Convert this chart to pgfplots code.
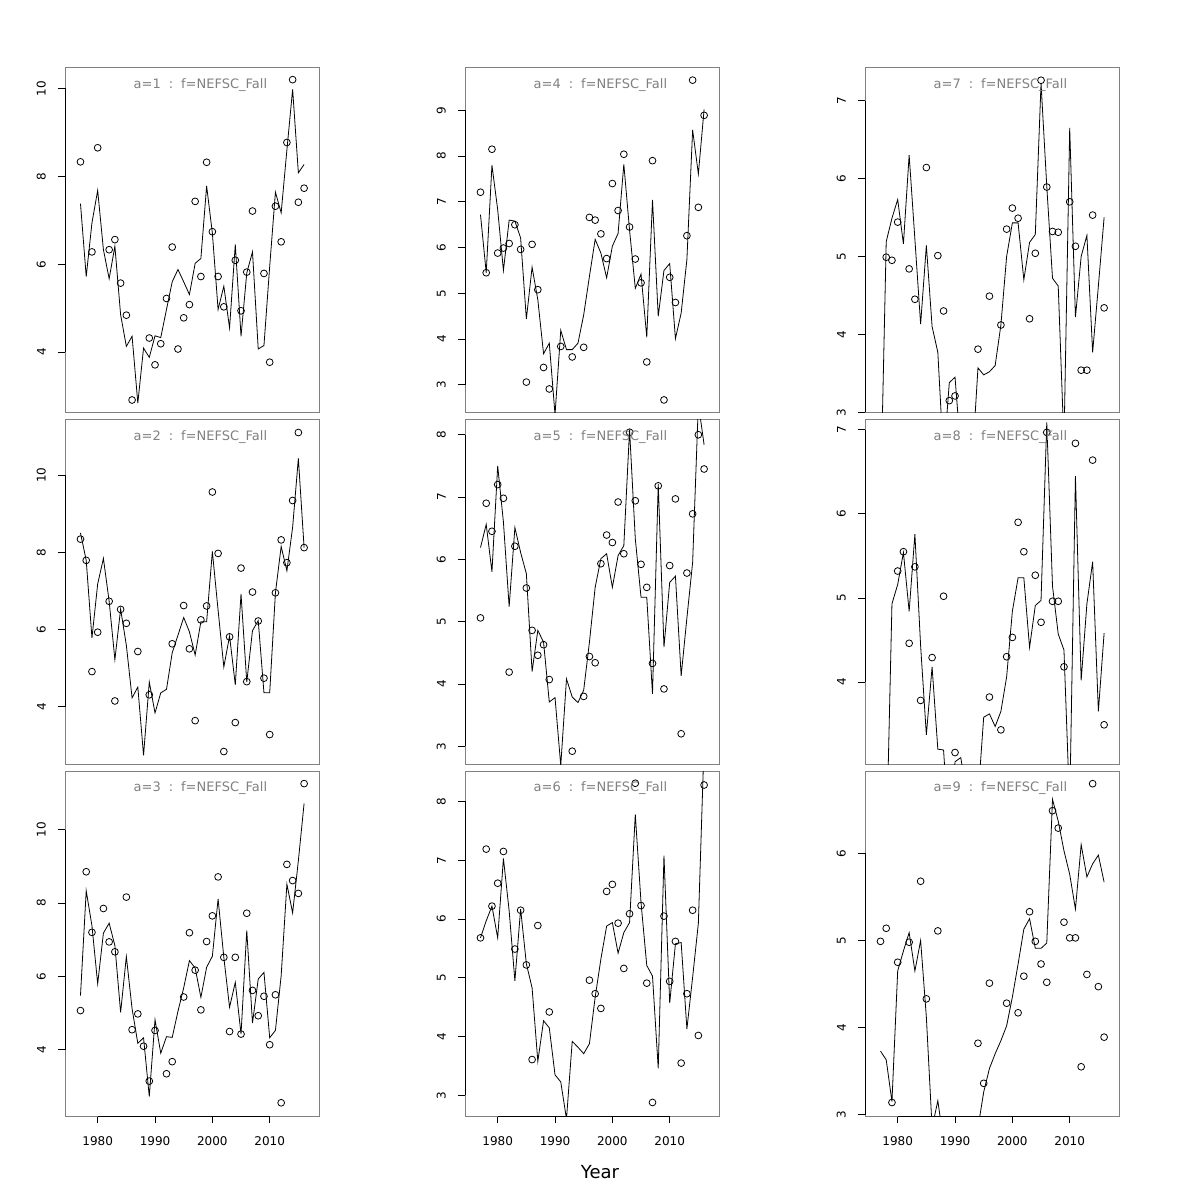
\documentclass[border=0pt]{standalone}
\usepackage{fontspec}
\setmainfont{DejaVu Sans}
\usepackage{pgfplots}
\pgfplotsset{compat=1.18}
\pgfplotsset{
 panel/.style={width=254bp,height=344.5bp,scale only axis,xmin=1974.3,xmax=2018.6,
  axis line style={draw=black!50, line width=0.8bp},
  tick style={black,line width=0.8bp}, major tick length=7bp, tick align=outside,
  xtick pos=bottom, ytick pos=left,
  ticklabel style={font=\fontsize{12bp}{14bp}\selectfont},
  /pgf/number format/assume math mode=true,
  /pgf/number format/1000 sep={},
  yticklabel style={rotate=90,anchor=south,inner sep=0pt},
  xticklabel style={anchor=north,inner sep=0pt},
  yticklabel shift=12bp, xticklabel shift=13.6bp,
  clip mode=individual, xtick=\empty,
 },
 fitline/.style={no marks, black, line width=0.8bp},
 obs/.style={only marks, mark=o, mark size=3.4bp, mark options={line width=0.8bp, black}},
 bottomrow/.style={xtick={1980,1990,2000,2010}},
}
\newcommand{\ptitle}[1]{\node[text=black!50, font=\fontsize{13bp}{15bp}\selectfont] at (rel axis cs:0.533,0.951) {a=#1\hspace{8bp}:\hspace{8bp}f=NEFSC\_Fall};}
\newcommand{\yline}[2]{\draw[black,line width=0.8bp] (axis cs:1974.3,#1) -- (axis cs:1974.3,#2);}
\newcommand{\xline}{\draw[black,line width=0.8bp] (axis cs:1980,\pgfkeysvalueof{/pgfplots/ymin}) -- (axis cs:2010,\pgfkeysvalueof{/pgfplots/ymin});}
\begin{document}
\begin{tikzpicture}
\useasboundingbox (0,0) rectangle (1200bp,1200bp);
% ---------- a=1 ----------
\begin{axis}[panel, at={(65bp,787.7bp)}, anchor=south west, ymin=2.63, ymax=10.47, ytick={4,6,8,10}]
\addplot[fitline] coordinates {(1977,7.38)(1978,5.72)(1979,6.94)(1980,7.68)(1981,6.33)(1982,5.67)(1983,6.41)(1984,4.85)(1985,4.13)(1986,4.36)(1987,2.84)(1988,4.09)(1989,3.88)(1990,4.37)(1991,4.33)(1992,4.97)(1993,5.6)(1994,5.88)(1995,5.6)(1996,5.31)(1997,6.02)(1998,6.13)(1999,7.78)(2000,6.71)(2001,4.97)(2002,5.5)(2003,4.55)(2004,6.45)(2005,4.36)(2006,5.8)(2007,6.28)(2008,4.07)(2009,4.15)(2010,5.95)(2011,7.64)(2012,7.17)(2013,8.6)(2014,9.98)(2015,8.08)(2016,8.27)};
\addplot[obs] coordinates {(1977,8.33)(1979,6.28)(1980,8.65)(1982,6.33)(1983,6.56)(1984,5.57)(1985,4.84)(1986,2.91)(1989,4.32)(1990,3.71)(1991,4.19)(1992,5.22)(1993,6.39)(1994,4.07)(1995,4.78)(1996,5.08)(1997,7.43)(1998,5.72)(1999,8.32)(2000,6.74)(2001,5.72)(2002,5.03)(2004,6.09)(2005,4.94)(2006,5.82)(2007,7.21)(2009,5.79)(2010,3.77)(2011,7.32)(2012,6.51)(2013,8.77)(2014,10.2)(2015,7.41)(2016,7.73)};
\ptitle{1}\yline{4}{10}
\end{axis}
% ---------- a=4 ----------
\begin{axis}[panel, at={(465bp,787.7bp)}, anchor=south west, ymin=2.40, ymax=9.93, ytick={3,4,5,6,7,8,9}]
\addplot[fitline] coordinates {(1977,6.72)(1978,5.45)(1979,7.8)(1980,6.83)(1981,5.5)(1982,6.6)(1983,6.58)(1984,6.21)(1985,4.44)(1986,5.57)(1987,4.86)(1988,3.68)(1989,3.91)(1990,2.35)(1991,4.19)(1992,3.77)(1993,3.77)(1994,3.91)(1995,4.53)(1996,5.37)(1997,6.18)(1998,5.88)(1999,5.34)(2000,6.03)(2001,6.31)(2002,7.82)(2003,6.38)(2004,5.11)(2005,5.42)(2006,4.04)(2007,7.04)(2008,4.5)(2009,5.5)(2010,5.65)(2011,4.01)(2012,4.57)(2013,5.74)(2014,8.57)(2015,7.61)(2016,9.02)};
\addplot[obs] coordinates {(1977,7.21)(1978,5.45)(1979,8.15)(1980,5.88)(1981,5.99)(1982,6.09)(1983,6.5)(1984,5.96)(1985,3.06)(1986,6.07)(1987,5.08)(1988,3.38)(1989,2.91)(1991,3.84)(1993,3.61)(1995,3.82)(1996,6.66)(1997,6.6)(1998,6.3)(1999,5.76)(2000,7.4)(2001,6.81)(2002,8.04)(2003,6.45)(2004,5.75)(2005,5.23)(2006,3.5)(2007,7.9)(2009,2.67)(2010,5.35)(2011,4.8)(2013,6.26)(2014,9.66)(2015,6.88)(2016,8.89)};
\ptitle{4}\yline{3}{9}
\end{axis}
% ---------- a=7 ----------
\begin{axis}[panel, at={(865bp,787.7bp)}, anchor=south west, ymin=3.0, ymax=7.42, ytick={3,4,5,6,7}]
\addplot[fitline] coordinates {(1977,1.82)(1978,5.19)(1979,5.49)(1980,5.73)(1981,5.16)(1982,6.3)(1983,5.22)(1984,4.13)(1985,5.14)(1986,4.1)(1987,3.77)(1988,2.4)(1989,3.38)(1990,3.45)(1991,2.5)(1992,2.0)(1993,2.36)(1994,3.57)(1995,3.48)(1996,3.52)(1997,3.6)(1998,4.12)(1999,5.0)(2000,5.43)(2001,5.43)(2002,4.7)(2003,5.18)(2004,5.28)(2005,7.22)(2006,5.9)(2007,4.72)(2008,4.62)(2009,2.6)(2010,6.65)(2011,4.22)(2012,5.0)(2013,5.27)(2014,3.77)(2015,4.62)(2016,5.5)};
\addplot[obs] coordinates {(1978,4.99)(1979,4.95)(1980,5.44)(1982,4.84)(1983,4.45)(1985,6.14)(1987,5.01)(1988,4.3)(1989,3.15)(1990,3.21)(1994,3.81)(1996,4.49)(1998,4.12)(1999,5.35)(2000,5.62)(2001,5.49)(2003,4.2)(2004,5.04)(2005,7.26)(2006,5.89)(2007,5.32)(2008,5.31)(2010,5.7)(2011,5.13)(2012,3.54)(2013,3.54)(2014,5.53)(2016,4.34)};
\ptitle{7}\yline{3}{7}
\end{axis}
% ---------- a=2 ----------
\begin{axis}[panel, at={(65bp,435.7bp)}, anchor=south west, ymin=2.51, ymax=11.43, ytick={4,6,8,10}]
\addplot[fitline] coordinates {(1977,8.5)(1978,7.79)(1979,5.78)(1980,7.18)(1981,7.84)(1982,6.73)(1983,5.22)(1984,6.53)(1985,5.59)(1986,4.23)(1987,4.51)(1988,2.74)(1989,4.64)(1990,3.84)(1991,4.36)(1992,4.45)(1993,5.4)(1994,5.85)(1995,6.31)(1996,5.94)(1997,5.34)(1998,6.2)(1999,6.2)(2000,8.02)(2001,6.5)(2002,5.03)(2003,5.83)(2004,4.57)(2005,6.92)(2006,4.64)(2007,5.97)(2008,6.23)(2009,4.36)(2010,4.36)(2011,6.95)(2012,8.15)(2013,7.52)(2014,8.65)(2015,10.43)(2016,8.12)};
\addplot[obs] coordinates {(1977,8.34)(1978,7.79)(1979,4.91)(1980,5.93)(1982,6.73)(1983,4.15)(1984,6.52)(1985,6.16)(1987,5.43)(1989,4.31)(1993,5.63)(1995,6.62)(1996,5.5)(1997,3.64)(1998,6.25)(1999,6.61)(2000,9.56)(2001,7.97)(2002,2.84)(2003,5.81)(2004,3.59)(2005,7.59)(2006,4.65)(2007,6.97)(2008,6.22)(2009,4.74)(2010,3.28)(2011,6.95)(2012,8.32)(2013,7.73)(2014,9.34)(2015,11.1)(2016,8.12)};
\ptitle{2}\yline{4}{10}
\end{axis}
% ---------- a=5 ----------
\begin{axis}[panel, at={(465bp,435.7bp)}, anchor=south west, ymin=2.71, ymax=8.24, ytick={3,4,5,6,7,8}]
\addplot[fitline] coordinates {(1977,6.19)(1978,6.56)(1979,5.8)(1980,7.5)(1981,6.6)(1982,5.24)(1983,6.51)(1984,6.11)(1985,5.77)(1986,4.2)(1987,4.86)(1988,4.67)(1989,3.71)(1990,3.78)(1991,2.69)(1992,4.08)(1993,3.79)(1994,3.7)(1995,3.9)(1996,4.67)(1997,5.55)(1998,6.01)(1999,6.09)(2000,5.55)(2001,6.06)(2002,6.22)(2003,8.08)(2004,6.33)(2005,5.39)(2006,5.39)(2007,3.84)(2008,7.21)(2009,4.59)(2010,5.63)(2011,5.73)(2012,4.13)(2013,5.06)(2014,5.95)(2015,8.5)(2016,7.84)};
\addplot[obs] coordinates {(1977,5.06)(1978,6.9)(1979,6.45)(1980,7.2)(1981,6.98)(1982,4.19)(1983,6.21)(1985,5.54)(1986,4.86)(1987,4.46)(1988,4.63)(1989,4.07)(1993,2.92)(1995,3.8)(1996,4.44)(1997,4.34)(1998,5.93)(1999,6.39)(2000,6.27)(2001,6.92)(2002,6.09)(2003,8.04)(2004,6.94)(2005,5.92)(2006,5.55)(2007,4.33)(2008,7.18)(2009,3.92)(2010,5.9)(2011,6.97)(2012,3.2)(2013,5.78)(2014,6.73)(2015,8.0)(2016,7.45)};
\ptitle{5}\yline{3}{8}
\end{axis}
% ---------- a=8 ----------
\begin{axis}[panel, at={(865bp,435.7bp)}, anchor=south west, ymin=3.02, ymax=7.12, ytick={4,5,6,7}]
\addplot[fitline] coordinates {(1977,1.5)(1978,1.95)(1979,4.93)(1980,5.16)(1981,5.54)(1982,4.84)(1983,5.76)(1984,4.43)(1985,3.37)(1986,4.18)(1987,3.2)(1988,3.19)(1989,2.13)(1990,3.05)(1991,3.1)(1992,2.68)(1993,2.5)(1994,2.62)(1995,3.58)(1996,3.62)(1997,3.47)(1998,3.65)(1999,4.06)(2000,4.84)(2001,5.24)(2002,5.24)(2003,4.41)(2004,4.91)(2005,4.97)(2006,7.09)(2007,5.14)(2008,4.57)(2009,4.38)(2010,2.5)(2011,6.45)(2012,4.02)(2013,4.93)(2014,5.43)(2015,3.65)(2016,4.58)};
\addplot[obs] coordinates {(1980,5.32)(1981,5.55)(1982,4.46)(1983,5.37)(1984,3.78)(1986,4.29)(1988,5.02)(1990,3.16)(1996,3.82)(1998,3.43)(1999,4.3)(2000,4.53)(2001,5.9)(2002,5.55)(2004,5.27)(2005,4.71)(2006,6.97)(2007,4.96)(2008,4.96)(2009,4.18)(2011,6.84)(2014,6.64)(2016,3.49)};
\ptitle{8}\yline{4}{7}
\end{axis}
% ---------- a=3 ----------
\begin{axis}[panel, bottomrow, at={(65bp,84bp)}, anchor=south west, ymin=2.2, ymax=11.58, ytick={4,6,8,10}]
\addplot[fitline] coordinates {(1977,5.48)(1978,8.33)(1979,7.38)(1980,5.8)(1981,7.18)(1982,7.45)(1983,6.84)(1984,5.02)(1985,6.54)(1986,5.12)(1987,4.18)(1988,4.33)(1989,2.73)(1990,4.82)(1991,3.91)(1992,4.36)(1993,4.34)(1994,5.05)(1995,5.69)(1996,6.43)(1997,6.23)(1998,5.43)(1999,6.25)(2000,6.55)(2001,8.11)(2002,6.52)(2003,5.16)(2004,5.84)(2005,4.43)(2006,7.25)(2007,4.73)(2008,5.93)(2009,6.11)(2010,4.33)(2011,4.53)(2012,6.02)(2013,8.51)(2014,7.73)(2015,9.15)(2016,10.71)};
\addplot[obs] coordinates {(1977,5.07)(1978,8.85)(1979,7.2)(1981,7.85)(1982,6.94)(1983,6.67)(1985,8.16)(1986,4.55)(1987,4.98)(1988,4.1)(1989,3.15)(1990,4.53)(1992,3.35)(1993,3.68)(1995,5.44)(1996,7.19)(1997,6.17)(1998,5.09)(1999,6.95)(2000,7.65)(2001,8.71)(2002,6.52)(2003,4.5)(2004,6.52)(2005,4.43)(2006,7.72)(2007,5.62)(2008,4.93)(2009,5.46)(2010,4.14)(2011,5.5)(2012,2.56)(2013,9.05)(2014,8.61)(2015,8.26)(2016,11.25)};
\ptitle{3}\yline{4}{10}\xline
\end{axis}
% ---------- a=6 ----------
\begin{axis}[panel, bottomrow, at={(465bp,84bp)}, anchor=south west, ymin=2.65, ymax=8.51, ytick={3,4,5,6,7,8}]
\addplot[fitline] coordinates {(1977,5.68)(1978,5.97)(1979,6.22)(1980,5.68)(1981,7.03)(1982,6.14)(1983,4.95)(1984,6.17)(1985,5.24)(1986,4.83)(1987,3.58)(1988,4.27)(1989,4.15)(1990,3.35)(1991,3.23)(1992,2.6)(1993,3.92)(1994,3.82)(1995,3.71)(1996,3.88)(1997,4.67)(1998,5.32)(1999,5.88)(2000,5.94)(2001,5.42)(2002,5.77)(2003,5.94)(2004,7.78)(2005,6.28)(2006,5.21)(2007,5.03)(2008,3.46)(2009,7.08)(2010,4.57)(2011,5.58)(2012,5.6)(2013,4.13)(2014,5.01)(2015,5.93)(2016,9.0)};
\addplot[obs] coordinates {(1977,5.68)(1978,7.19)(1979,6.22)(1980,6.61)(1981,7.15)(1983,5.49)(1984,6.15)(1985,5.22)(1986,3.61)(1987,5.89)(1989,4.42)(1996,4.96)(1997,4.73)(1998,4.48)(1999,6.47)(2000,6.59)(2001,5.93)(2002,5.16)(2003,6.09)(2004,8.31)(2005,6.23)(2006,4.91)(2007,2.88)(2009,6.05)(2010,4.94)(2011,5.62)(2012,3.55)(2013,4.73)(2014,6.15)(2015,4.02)(2016,8.28)};
\ptitle{6}\yline{3}{8}\xline
\end{axis}
% ---------- a=9 ----------
\begin{axis}[panel, bottomrow, at={(865bp,84bp)}, anchor=south west, ymin=2.985, ymax=6.94, ytick={3,4,5,6}]
\addplot[fitline] coordinates {(1977,3.73)(1978,3.63)(1979,3.15)(1980,4.65)(1981,4.88)(1982,5.09)(1983,4.65)(1984,5.0)(1985,4.12)(1986,2.85)(1987,3.16)(1988,2.7)(1989,2.5)(1990,2.4)(1991,2.4)(1992,2.5)(1993,2.55)(1994,2.85)(1995,3.26)(1996,3.53)(1997,3.7)(1998,3.85)(1999,4.02)(2000,4.35)(2001,4.73)(2002,5.13)(2003,5.25)(2004,4.91)(2005,4.91)(2006,4.97)(2007,6.62)(2008,6.37)(2009,6.03)(2010,5.76)(2011,5.36)(2012,6.1)(2013,5.73)(2014,5.88)(2015,5.98)(2016,5.67)};
\addplot[obs] coordinates {(1977,4.99)(1978,5.14)(1979,3.14)(1980,4.75)(1982,4.98)(1984,5.68)(1985,4.33)(1987,5.11)(1994,3.82)(1995,3.36)(1996,4.51)(1999,4.28)(2001,4.17)(2002,4.59)(2003,5.33)(2004,4.99)(2005,4.73)(2006,4.52)(2007,6.49)(2008,6.29)(2009,5.21)(2010,5.03)(2011,5.03)(2012,3.55)(2013,4.61)(2014,6.8)(2015,4.47)(2016,3.89)};
\ptitle{9}\yline{3}{6}\xline
\end{axis}
\node[font=\fontsize{18bp}{20bp}\selectfont, anchor=base] at (600bp,21.5bp) {Year};
\end{tikzpicture}
\end{document}
